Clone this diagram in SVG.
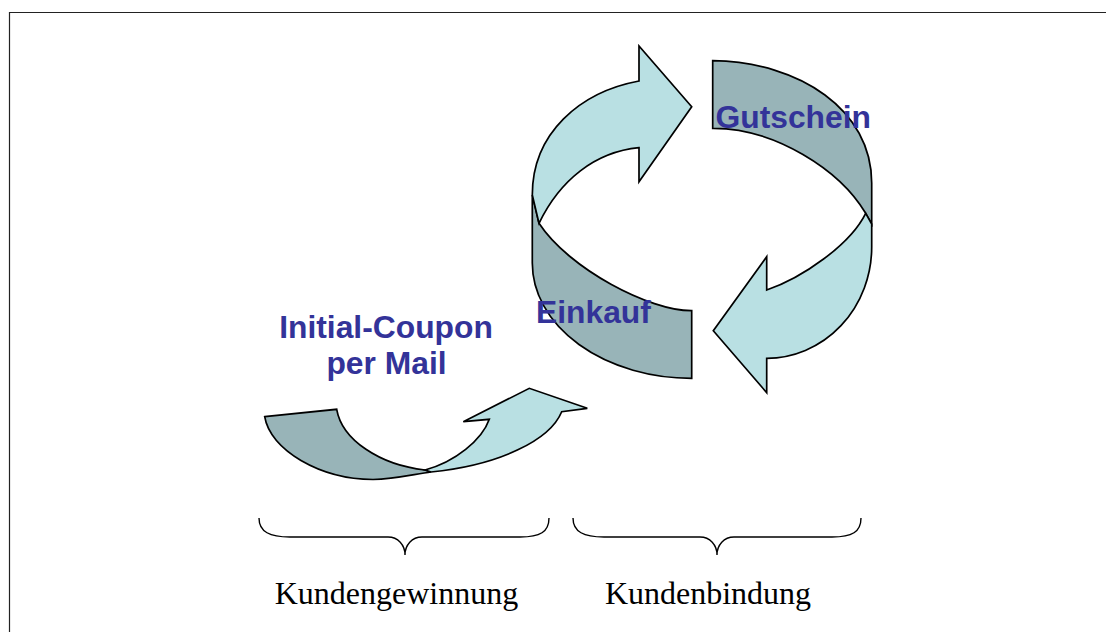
<svg xmlns="http://www.w3.org/2000/svg" width="1106" height="632" viewBox="0 0 1106 632">
<style>
.light{fill:#B9E0E3;stroke:#000;stroke-width:1.7;stroke-linejoin:miter}
.dark{fill:#98B4B8;stroke:#000;stroke-width:1.7;stroke-linejoin:miter}
.lbl{font-family:"Liberation Sans",Arial,sans-serif;font-weight:bold;font-size:31.8px;fill:#333399}
.cap{font-family:"Liberation Serif","Times New Roman",serif;font-size:32px;fill:#000}
.brace{fill:none;stroke:#000;stroke-width:1.4}
.frame{fill:none;stroke:#222;stroke-width:1.2}
</style>
<rect width="1106" height="632" fill="#fff"/>
<g id="frame">
<path class="frame" d="M9.5,632 L9.5,12.5 L1106,12.5"/>
</g>
<g id="node-gutschein">
<path class="dark" d="M712.7,60.7 C800,62 871.7,110 871.7,183 L871.7,224 L865.7,213.3 C840,170 775,128 712.7,128.3 Z"/>
</g>
<g id="node-einkauf">
<path class="dark" d="M532.3,195 L532.3,263 A159.4,115.3 0 0 0 691.7,378.3 L691.7,310.7 C650,311 569,269 539,223.3 Z"/>
</g>
<g id="connectors">
<path id="arrow-top" class="light" d="M539,223.3 L532.3,195 C532.3,133 580,92 639,81 L639,46 L691.7,106.7 L639,181.7 L639,147.7 C595,152 560,180 539,223.3 Z"/>
<path id="arrow-right" class="light" d="M865.7,213.3 L871.7,224 L871.7,247 A105,111.3 0 0 1 766.7,358.3 L766.7,392.7 L713.3,330.7 L766.7,256.7 L766.7,290 C802,278 850,245 865.7,213.3 Z"/>
<path id="initial-dark" class="dark" d="M264.7,416.7 L336.7,409.3 C342,440 380,465 425,470 L431,472 C415,474 395,479 373,479.5 C320,479 270,450 264.7,416.7 Z"/>
<path id="initial-light" class="light" d="M425,470 C455,462 482,440 489.3,419.3 L463.3,421.7 L529.3,388.3 L587.3,408.3 L561.7,411.7 C550,440 500,465 431,472 Z"/>
</g>
<g id="labels">
<text class="lbl" x="715.5" y="127.8">Gutschein</text>
<text class="lbl" x="536" y="323.3">Einkauf</text>
<text class="lbl" x="386" y="337.5" text-anchor="middle">Initial-Coupon</text>
<text class="lbl" x="386.5" y="374" text-anchor="middle">per Mail</text>
</g>
<g id="brace-gewinnung">
<path class="brace" d="M259,518 C259,532 270,537 290,537 L388,537 C398,537 405,545 405,555 C405,545 412,537 422,537 L520,537 C540,537 549,532 549,518"/>
<text class="cap" x="396.5" y="604" text-anchor="middle">Kundengewinnung</text>
</g>
<g id="brace-bindung">
<path class="brace" d="M573,518 C573,532 584,537 604,537 L700,537 C710,537 717,545 717,555 C717,545 724,537 734,537 L832,537 C852,537 861,532 861,518"/>
<text class="cap" x="708" y="604" text-anchor="middle">Kundenbindung</text>
</g>
</svg>
